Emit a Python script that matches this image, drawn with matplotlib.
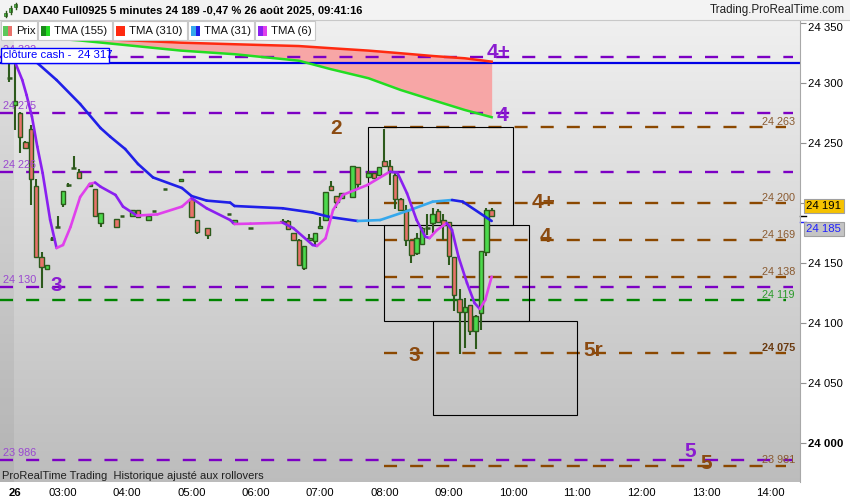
import numpy as np
import matplotlib.pyplot as plt
from matplotlib.patches import Rectangle
from matplotlib.collections import LineCollection
from matplotlib.transforms import blended_transform_factory

plt.rcParams['font.family'] = ['Liberation Sans', 'DejaVu Sans']
plt.rcParams['lines.scale_dashes'] = False

# 5 minute bars, 26 Aug 2025
bar_times = ["02:10", "02:15", "02:20", "02:25", "02:30", "02:35", "02:40", "02:45", "02:50", "02:55",
             "03:00", "03:05", "03:10", "03:15", "03:25", "03:30", "03:35", "03:50", "03:55", "04:05",
             "04:10", "04:20", "04:25", "04:35", "04:50", "05:00", "05:05", "05:15", "05:35", "05:40",
             "05:55", "06:25", "06:30", "06:35", "06:40", "06:45", "06:50", "06:55", "07:00", "07:05",
             "07:10", "07:15", "07:20", "07:30", "07:35", "07:45", "07:50", "07:55", "08:00", "08:05",
             "08:10", "08:15", "08:20", "08:25", "08:30", "08:35", "08:40", "08:45", "08:50", "08:55",
             "09:00", "09:05", "09:10", "09:15", "09:20", "09:25", "09:30", "09:35", "09:40"]
opens = [24304, 24282, 24275, 24251, 24262, 24214, 24155, 24145, 24170, 24180,
         24199, 24215, 24229, 24226, 24214, 24212, 24183, 24187, 24189, 24189,
         24194, 24186, 24193, 24212, 24218, 24203, 24186, 24179, 24191, 24183,
         24179, 24184, 24185, 24175, 24169, 24146, 24169, 24168, 24179, 24186,
         24214, 24206, 24204, 24205, 24230, 24222, 24225, 24223, 24235, 24231,
         24223, 24203, 24194, 24169, 24158, 24166, 24179, 24183, 24193, 24186,
         24184, 24155, 24120, 24109, 24115, 24093, 24108, 24159, 24194]
highs = [24317, 24317, 24276, 24252, 24265, 24220, 24159, 24148, 24172, 24189,
         24210, 24217, 24239, 24228, 24217, 24212, 24192, 24187, 24189, 24194,
         24194, 24189, 24193, 24212, 24220, 24205, 24186, 24179, 24191, 24186,
         24179, 24187, 24186, 24175, 24170, 24164, 24174, 24175, 24188, 24209,
         24218, 24206, 24208, 24231, 24230, 24227, 24225, 24230, 24262, 24236,
         24227, 24204, 24198, 24169, 24175, 24180, 24191, 24196, 24195, 24191,
         24184, 24155, 24128, 24121, 24115, 24107, 24160, 24196, 24196]
lows = [24301, 24261, 24242, 24245, 24198, 24155, 24129, 24145, 24168, 24180,
        24197, 24213, 24229, 24220, 24213, 24189, 24180, 24180, 24189, 24189,
        24188, 24185, 24193, 24212, 24218, 24188, 24174, 24170, 24191, 24183,
        24179, 24184, 24178, 24169, 24148, 24144, 24169, 24165, 24179, 24186,
        24210, 24196, 24204, 24205, 24212, 24221, 24220, 24223, 24231, 24215,
        24195, 24193, 24164, 24150, 24157, 24165, 24173, 24175, 24184, 24169,
        24148, 24110, 24074, 24079, 24090, 24078, 24094, 24156, 24189]
closes = [24304, 24285, 24255, 24246, 24220, 24155, 24147, 24148, 24170, 24180,
          24210, 24215, 24229, 24221, 24216, 24189, 24192, 24180, 24189, 24194,
          24188, 24189, 24193, 24212, 24220, 24188, 24176, 24173, 24191, 24186,
          24179, 24185, 24178, 24169, 24148, 24164, 24171, 24175, 24181, 24209,
          24211, 24201, 24208, 24231, 24216, 24225, 24221, 24230, 24231, 24226,
          24203, 24194, 24169, 24157, 24171, 24179, 24179, 24191, 24184, 24182,
          24156, 24123, 24109, 24113, 24093, 24106, 24160, 24194, 24189]

# moving averages
long_times = ["02:20", "03:15", "04:50", "05:40", "06:40", "07:10", "07:45", "08:15", "08:45", "09:15", "09:40"]
tma155 = [24339, 24335.5, 24327, 24324, 24318.6, 24311.5, 24304, 24294.2, 24285.8, 24277.5, 24271.5]
tma310 = [24341, 24337.5, 24333.6, 24332.3, 24330.8, 24329, 24327, 24324.8, 24322.5, 24320.6, 24317.8]

t31_times = ["02:25", "02:36", "02:54", "03:16", "03:35", "03:44", "03:58", "04:10", "04:24", "04:51",
             "05:00", "05:14", "05:36", "05:40", "06:25", "06:53", "07:09", "07:35", "07:56", "08:24",
             "08:45", "09:03", "09:13", "09:40"]
tma31 = [24327.5, 24316.7, 24302.5, 24282.5, 24262.5, 24255.3, 24245, 24232.5, 24221.3, 24212.5,
         24205.8, 24202, 24200.3, 24197.5, 24195.6, 24192, 24188.3, 24185, 24185.8, 24194.2,
         24201.1, 24202.5, 24201.1, 24185]

t6_times = ["02:12", "02:15", "02:22", "02:26", "02:31", "02:36", "02:41", "02:48", "02:54", "03:00",
            "03:07", "03:16", "03:25", "03:30", "03:35", "03:49", "03:56", "04:09", "04:28", "04:51",
            "05:00", "05:14", "05:36", "05:40", "05:55", "06:25", "06:35", "06:53", "06:57", "07:05",
            "07:12", "07:21", "07:44", "08:05", "08:12", "08:21", "08:30", "08:38", "08:42", "08:49",
            "08:58", "09:03", "09:09", "09:17", "09:24", "09:29", "09:34", "09:40"]
tma6 = [24323, 24318, 24302.5, 24290, 24272, 24247, 24225, 24186, 24162.5, 24165,
        24180, 24205, 24216, 24217, 24213.6, 24206.7, 24197, 24189.5, 24190.5, 24197,
        24204, 24195.6, 24185.8, 24182.5, 24182.8, 24183.6, 24179, 24165, 24164.2, 24170.6,
        24194.2, 24206.7, 24215, 24226.1, 24225.3, 24208.1, 24185.8, 24171.9, 24170.8, 24177.5,
        24183.3, 24177.5, 24155.3, 24133.3, 24116.7, 24111.7, 24119.2, 24138.6]

# horizontal levels
cloture_cash = 24317
purple_levels = [24322, 24275, 24226, 24130, 23986]
brown_levels = [24263, 24200, 24169, 24138, 24075, 23981]
green_level = 24119
last_price = 24191
last_tma31 = 24185

# wave labels
wave_text = ["4+", "4", "2", "4+", "4", "3", "3", "5r", "5", "5"]
wave_times = ["09:46", "09:50", "07:15", "10:28", "10:30", "02:54", "08:28", "11:15", "12:45", "13:00"]
wave_prices = [24325, 24273, 24262, 24200, 24172, 24131, 24073, 24077, 23993, 23983]
wave_purple = [True, True, False, False, False, True, False, False, True, False]

# projection boxes
box_starts = ["07:45", "08:00", "08:45"]
box_tops = [24263, 24182, 24102]
box_bottoms = [24182, 24102, 24023]
box_hours = 2.25

tick_hours = ["02:15", "03:00", "04:00", "05:00", "06:00", "07:00", "08:00", "09:00",
              "10:00", "11:00", "12:00", "13:00", "14:00"]
tick_labels = ["26", "03:00", "04:00", "05:00", "06:00", "07:00", "08:00", "09:00",
               "10:00", "11:00", "12:00", "13:00", "14:00"]


def hrs(t):
    h, m = t.split(':')
    return int(h) + int(m) / 60.0


def fmt(v):
    v = int(round(v))
    return "%d %03d" % (v // 1000, v % 1000)


PURPLE = '#7c00c4'
BROWN = '#8b4800'
DGREEN = '#008400'
WICK = '#2d5a1c'
FS = 7.8

fig = plt.figure(figsize=(8.5, 5), dpi=100)
fig.patch.set_facecolor('white')
ax = fig.add_axes([0, 18 / 500, 800 / 850, 462 / 500])
x0, x1 = 2.0202, 14.462
y0, y1 = 23967.5, 24352.5
ax.set_xlim(x0, x1)
ax.set_ylim(y0, y1)

# grey gradient background + previous-day strip
grad = np.linspace(0, 1, 256)[:, None]
top = np.array([0.94, 0.94, 0.94])
bot = np.array([0.74, 0.74, 0.74])
img = top + (bot - top) * grad[:, :, None]
ax.imshow(img, extent=[x0, x1, y0, y1], aspect='auto', zorder=0, origin='upper')
ax.axvspan(x0, 2.24, color='black', alpha=0.05, lw=0, zorder=0.5)

# pink zone between long averages
lx = [hrs(t) for t in long_times]
ax.fill_between(lx, tma155, tma310, color='#f7a6a6', lw=0, zorder=1)

# levels
dash = (9.4, 9.4)
xe_p = hrs("14:21")
xe_b = hrs("14:15")
for lv in purple_levels:
    ax.plot([x0, xe_p], [lv, lv], color=PURPLE, lw=1.7, dashes=dash, zorder=2)
for lv in brown_levels:
    ax.plot([hrs("08:00"), xe_b], [lv, lv], color=BROWN, lw=1.7, dashes=dash, zorder=2)
ax.plot([x0, xe_b], [green_level, green_level], color=DGREEN, lw=1.7, dashes=dash, zorder=2)
ax.axhline(cloture_cash, color='#0000e6', lw=1.6, zorder=2.2)

xr = hrs("14:23")
for lv in brown_levels:
    bold = lv == 24075
    ax.text(xr, lv + 2, fmt(lv), ha='right', va='baseline', fontsize=FS,
            color='#6a3a10' if bold else '#8a5a30', fontweight='bold' if bold else 'normal', zorder=5)
ax.text(xr, green_level + 2, fmt(green_level), ha='right', va='baseline', fontsize=FS,
        color='#2a9a2a', zorder=5)
for lv in purple_levels:
    ax.text(hrs("02:04"), lv + 3, fmt(lv), ha='left', va='baseline', fontsize=FS,
            color='#9a48d0', zorder=5)

# boxes
for s, tp, bt in zip(box_starts, box_tops, box_bottoms):
    ax.add_patch(Rectangle((hrs(s), bt), box_hours, tp - bt, fill=False, ec='black', lw=0.8, zorder=2.5))

# candles
w = 0.07
for t, o, h, l, c in zip(bar_times, opens, highs, lows, closes):
    x = hrs(t)
    ax.vlines(x, l, h, color=WICK, lw=1.5, zorder=3)
    if o == c:
        ax.hlines(o, x - w / 2, x + w / 2, color=WICK, lw=1.8, zorder=3.5)
    else:
        fc = '#4cd94c' if c > o else '#e8726a'
        ax.add_patch(Rectangle((x - w / 2, min(o, c)), w, abs(c - o), fc=fc, ec=WICK, lw=1.0, zorder=3.5))


def two_tone(times, vals, up_col, dn_col, z):
    xs = [hrs(t) for t in times]
    segs, cols = [], []
    for i in range(len(xs) - 1):
        segs.append([(xs[i], vals[i]), (xs[i + 1], vals[i + 1])])
        cols.append(up_col if vals[i + 1] > vals[i] else dn_col)
    lc = LineCollection(segs, colors=cols, linewidths=1.9, zorder=z, capstyle='round', joinstyle='round')
    ax.add_collection(lc)


ax.plot(lx, tma310, color='#ff2a10', lw=1.8, zorder=4)
ax.plot(lx, tma155, color='#22dd22', lw=1.8, zorder=4)
two_tone(t31_times, tma31, '#36a8ec', '#2020e8', 4.2)
two_tone(t6_times, tma6, '#e040ec', '#8a20f0', 4.4)

for txt, t, p, isp in zip(wave_text, wave_times, wave_prices, wave_purple):
    ax.text(hrs(t), p, txt, ha='center', va='center', fontsize=15, fontweight='bold',
            color='#8a1cd0' if isp else '#8b4a10', zorder=6)

# axes styling (24 200 is hidden by the price tag)
ax.yaxis.tick_right()
yt = list(range(24000, 24351, 50))
ax.set_yticks(yt)
ax.set_yticklabels(['' if v == 24200 else fmt(v) for v in yt])
for lab in ax.get_yticklabels():
    if lab.get_text() == "24 000":
        lab.set_fontweight('bold')
    if lab.get_text() == "24 350":
        lab.set_verticalalignment('top')
ax.tick_params(axis='y', length=4, color='#909090', labelsize=8.2, pad=2, labelcolor='black')
ax.set_xticks([hrs(t) for t in tick_hours])
ax.set_xticklabels(tick_labels)
ax.get_xticklabels()[0].set_fontweight('bold')
ax.tick_params(axis='x', length=0, labelsize=8.2, pad=4)
for s in ['top', 'left', 'bottom']:
    ax.spines[s].set_visible(False)
ax.spines['right'].set_color('#a8a8a8')
ax.spines['right'].set_linewidth(0.8)

# current price tags
btr = blended_transform_factory(ax.transAxes, ax.transData)
ax.plot([1.0, 1.007], [last_price - 2, last_price - 2], color='black', lw=1, transform=btr, clip_on=False)
ax.plot([1.0, 1.007], [last_tma31 - 1, last_tma31 - 1], color='#2020ff', lw=1, transform=btr, clip_on=False)
ax.text(1.008, last_price + 6.5, fmt(last_price), transform=btr, ha='left', va='center', fontsize=8.2,
        color='black', clip_on=False, bbox=dict(boxstyle='square,pad=0.2', fc='#f6c200', ec='#a0a0a0', lw=0.8))
ax.text(1.008, last_tma31 - 6.5, fmt(last_tma31), transform=btr, ha='left', va='center', fontsize=8.2,
        color='#2020ff', clip_on=False, bbox=dict(boxstyle='square,pad=0.2', fc='#c4c4c4', ec='#a0a0a0', lw=0.8))

# overlay: header, legend, labels (pixel coordinates)
ov = fig.add_axes([0, 0, 1, 1])
ov.set_xlim(0, 850)
ov.set_ylim(500, 0)
ov.axis('off')
ov.add_patch(Rectangle((0, 0), 850, 20, fc='#f3f3f3', ec='none'))
ov.plot([0, 850], [20, 20], color='#c8c8c8', lw=0.8)
ov.text(23, 10.5, "DAX40 Full0925 5 minutes 24 189 -0,47 % 26 août 2025, 09:41:16",
        fontsize=8, fontweight='bold', va='center', ha='left')
ov.text(845, 10.5, "Trading.ProRealTime.com", fontsize=8.4, va='center', ha='right', color='#202020')
for xi, yt0, yt1, yb0, yb1 in [(6, 11, 17, 13, 16), (11, 6, 14, 8, 12), (16, 3, 9, 4, 7)]:
    ov.plot([xi, xi], [yt0, yt1], color=WICK, lw=1)
    ov.add_patch(Rectangle((xi - 1.5, yb0), 3, yb1 - yb0, fc='#4cd94c', ec=WICK, lw=0.5))

legend_items = [("Prix", '#5cc85c', '#e8726a', 38),
                ("TMA (155)", '#1a8a1a', '#22dd22', 75),
                ("TMA (310)", '#ff2a10', '#ff2a10', 75),
                ("TMA (31)", '#36a8ec', '#2020e8', 67),
                ("TMA (6)", '#8a20f0', '#e040ec', 61)]
lx0 = 0
for name, c1, c2, wd in legend_items:
    ov.add_patch(Rectangle((lx0 + 0.5, 20.5), wd - 1, 19, fc='white', ec='#c8c8c8', lw=0.8))
    ov.add_patch(Rectangle((lx0 + 3.5, 26), 4.5, 10, fc=c1, ec='none'))
    ov.add_patch(Rectangle((lx0 + 8, 26), 4.5, 10, fc=c2, ec='none'))
    ov.text(lx0 + 16, 30.5, name, fontsize=8.2, va='center', ha='left', color='#101010')
    lx0 += wd

ov.add_patch(Rectangle((0.5, 47.5), 109, 15, fc='white', ec='#0000ff', lw=1))
ov.text(3, 55.5, "clôture cash -  " + fmt(cloture_cash), fontsize=8.2, color='#0000ff', va='center', ha='left')
ov.text(2, 476, "ProRealTime Trading  Historique ajusté aux rollovers", fontsize=8,
        color='#202020', va='center', ha='left')

fig.savefig('out.png', dpi=100)
